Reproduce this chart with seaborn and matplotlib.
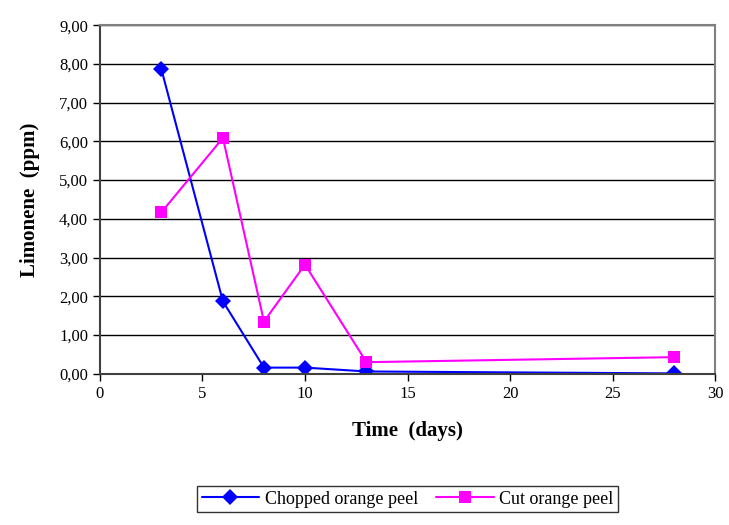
import matplotlib
matplotlib.use('Agg')
import matplotlib.pyplot as plt
import seaborn as sns
import pandas as pd
from matplotlib.ticker import FuncFormatter

days = [3, 6, 8, 10, 13, 28]
chopped = [7.86, 1.87, 0.16, 0.16, 0.06, 0.01]
cut = [4.17, 6.09, 1.35, 2.82, 0.30, 0.43]
series_names = ['Chopped orange peel', 'Cut orange peel']

df = pd.DataFrame({
    'day': days * 2,
    'limonene': chopped + cut,
    'series': [series_names[0]] * len(days) + [series_names[1]] * len(days),
})

sns.set_style('white')
plt.rcParams['font.family'] = ['Liberation Serif', 'DejaVu Serif']
plt.rcParams['text.color'] = 'black'
plt.rcParams['axes.labelcolor'] = 'black'

fig = plt.figure(figsize=(7.29, 5.25), dpi=100)
ax = fig.add_axes([0.137, 0.288, 0.844, 0.664])

sns.lineplot(data=df, x='day', y='limonene', hue='series', style='series',
             palette=['#0000ff', '#ff00ff'], markers=['D', 's'], dashes=False,
             markersize=8.5, linewidth=1.5, markeredgewidth=0, ax=ax)

ax.set_xlim(0, 30)
ax.set_ylim(0, 9)
ax.set_xticks(range(0, 31, 5))
ax.set_yticks(range(0, 10))
ax.yaxis.set_major_formatter(FuncFormatter(lambda v, p: f'{v:.2f}'.replace('.', ',')))
ax.yaxis.grid(True, color='black', linewidth=1)
ax.set_axisbelow(True)
for s in ['top', 'right']:
    ax.spines[s].set_color('#808080')
    ax.spines[s].set_linewidth(1.5)
for s in ['left', 'bottom']:
    ax.spines[s].set_color('#404040')
    ax.spines[s].set_linewidth(1.5)
ax.tick_params(axis='both', direction='out', length=5, width=1, colors='black',
               labelsize=12, bottom=True, left=True)
ax.set_xlabel('Time  (days)', fontsize=15, fontweight='bold', labelpad=14)
ax.set_ylabel('Limonene  (ppm)', fontsize=15, fontweight='bold', labelpad=14)

handles, labels = ax.get_legend_handles_labels()
ax.legend(handles, labels, loc='center', bbox_to_anchor=(0.5, -0.36), ncol=2,
          frameon=True, fancybox=False, edgecolor='black', fontsize=13,
          handlelength=3.2, columnspacing=1.0, handletextpad=0.3, borderpad=0.25)

fig.savefig('out.png', dpi=100)
plt.close(fig)
